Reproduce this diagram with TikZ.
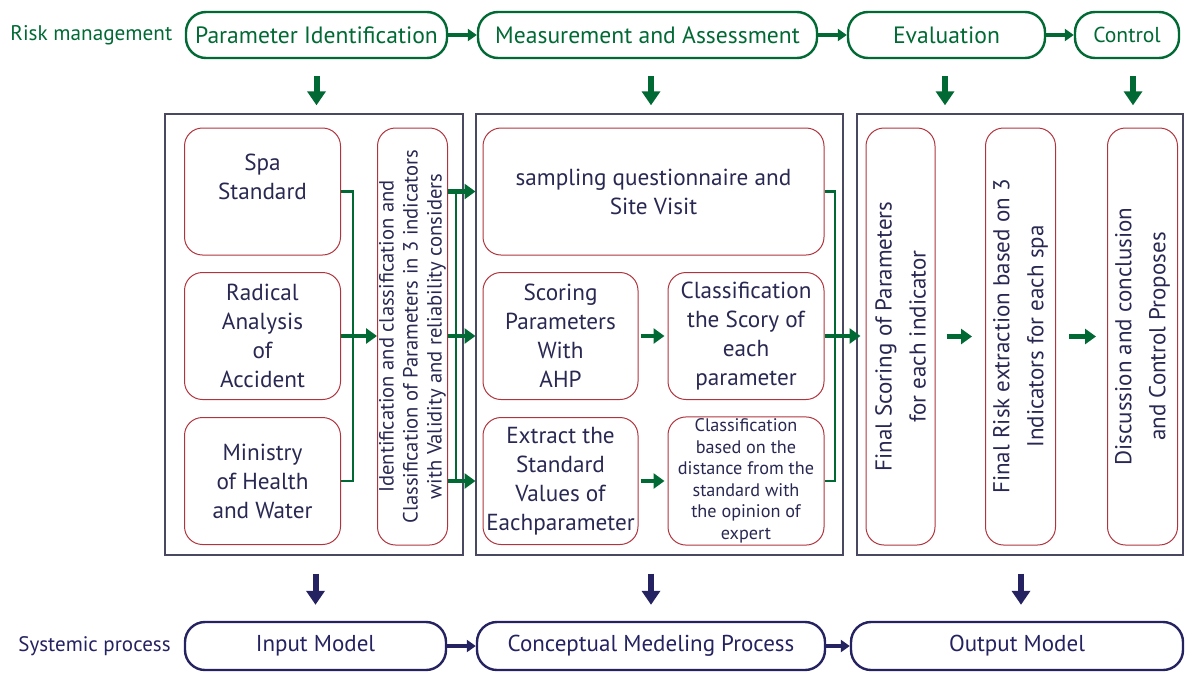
\documentclass[tikz,border=0pt]{standalone}
\usepackage{fontspec}
\setmainfont{PT Sans}
\usetikzlibrary{arrows.meta}

\definecolor{riskgreen}{RGB}{0,105,52}
\definecolor{sysnavy}{RGB}{36,34,96}
\definecolor{boxred}{RGB}{176,52,62}
\definecolor{panelgray}{RGB}{72,72,96}
\definecolor{inktext}{RGB}{40,40,82}

\begin{document}
\begin{tikzpicture}[x=0.5pt, y=-0.5pt,
	riskstep/.style={draw=riskgreen, line width=1.2pt, rounded corners=10pt, minimum height=23pt, text=riskgreen, font=\fontsize{11.8}{14}\selectfont},
	sysstep/.style={draw=sysnavy, line width=1.2pt, rounded corners=10pt, minimum height=24pt, text=sysnavy, font=\fontsize{11.5}{14}\selectfont},
	panel/.style={draw=panelgray, line width=0.7pt, minimum height=220.5pt, inner sep=0pt},
	item/.style={draw=boxred, line width=0.5pt, rounded corners=9pt, text=inktext, align=center, inner sep=1pt, font=\fontsize{11.6}{14.5}\selectfont},
	hitem/.style={item, minimum width=78pt, minimum height=63.5pt},
	vitem/.style={item, rotate=90, minimum width=208.5pt, minimum height=35pt, font=\fontsize{11.5}{17}\selectfont},
	gline/.style={draw=riskgreen, line width=1.2pt},
	garrow/.style={draw=riskgreen, line width=2.4pt, -{Triangle[width=7.5pt,length=5.5pt]}},
	tarrow/.style={draw=riskgreen, line width=2pt, -{Triangle[width=6pt,length=4.5pt]}},
	narrow/.style={draw=sysnavy, line width=2pt, -{Triangle[width=6pt,length=4.5pt]}},
	gdown/.style={draw=riskgreen, line width=3pt, -{Triangle[width=9pt,length=7pt]}},
	ndown/.style={draw=sysnavy, line width=3pt, -{Triangle[width=9pt,length=7pt]}}]
	\useasboundingbox (0,0) rectangle (1186,675);

	% row labels
	\node[text=riskgreen, anchor=west, inner sep=0pt, font=\fontsize{10.6}{12}\selectfont] (risklbl) at (10,35) {Risk management};
	\node[text=sysnavy, anchor=west, inner sep=0pt, font=\fontsize{10.5}{12}\selectfont] (syslbl) at (18,646) {Systemic process};

	% risk management steps
	\node[riskstep, minimum width=130.5pt] (pid) at (316.5,35) {Parameter Identification};
	\node[riskstep, minimum width=169.5pt] (meas) at (647.5,35) {Measurement and Assessment};
	\node[riskstep, minimum width=98.5pt] (eval) at (946.5,35) {Evaluation};
	\node[riskstep, minimum width=52pt, font=\fontsize{10.8}{12}\selectfont] (ctrl) at (1127,35) {Control};
	\draw[tarrow] (pid) -- (meas);
	\draw[tarrow] (meas) -- (eval);
	\draw[tarrow] (eval) -- (ctrl);

	% panels
	\node[panel, minimum width=149pt] (p1) at (314,334.5) {};
	\node[panel, minimum width=183.5pt] (p2) at (659.5,334.5) {};
	\node[panel, minimum width=163pt] (p3) at (1020,334.5) {};

	\draw[gdown] ([yshift=-8.5pt]pid.south) -- ([yshift=4pt]pid.south |- p1.north);
	\draw[gdown] ([xshift=1.75pt, yshift=-8.5pt]meas.south) -- ([xshift=1.75pt, yshift=4pt]meas.south |- p2.north);
	\draw[gdown] ([xshift=-0.75pt, yshift=-8.5pt]eval.south) -- ([xshift=-0.75pt, yshift=4pt]eval.south |- p3.north);
	\draw[gdown] ([xshift=3pt, yshift=-8.5pt]ctrl.south) -- ([xshift=3pt, yshift=4pt]ctrl.south |- p3.north);

	% input side
	\node[hitem] (spa) at (262.5,191.5) {Spa\\Standard\\~};
	\node[hitem] (rad) at (262.5,336) {Radical\\Analysis\\of\\Accident};
	\node[hitem] (mhw) at (262.5,481) {Ministry\\of Health\\and Water};
	\node[vitem, inner sep=0pt, font=\fontsize{10.3}{12}\selectfont] (ident) at (412.5,336.5) {Identification and classification and\\Classification of Parameters in 3 indicators\\with Validity and reliability considers};

	\coordinate (j1) at (353,336);
	\draw[gline] (spa.east) -| (j1) |- (mhw.east);
	\draw[garrow] (rad.east) -- (ident.north |- rad.east);

	% measurement side
	\node[item, minimum width=170.5pt, minimum height=63.5pt] (samp) at (653.5,191.5) {sampling questionnaire and\\Site Visit};
	\node[hitem, minimum width=77.5pt] (score) at (560.5,336) {Scoring\\Parameters\\With\\AHP};
	\node[hitem] (clsc) at (746,336) {Classification\\the Scory of\\each\\parameter};
	\node[hitem, minimum width=77.5pt] (extr) at (560.5,481) {Extract the\\Standard\\Values of\\Eachparameter};
	\node[hitem, font=\fontsize{9.1}{10.75}\selectfont] (clb) at (746,481) {Classification\\based on the\\distance from the\\standard with\\the opinion of\\expert};

	\draw[gline] ([xshift=4pt]ident.south |- samp.west) -- ([xshift=4pt]ident.south |- extr.west);
	\draw[garrow, shorten >=3.5pt] (ident.south |- samp.west) -- (samp.west);
	\draw[garrow, shorten >=3.5pt] (ident.south |- score.west) -- (score.west);
	\draw[garrow, shorten >=3.5pt] (ident.south |- extr.west) -- (extr.west);
	\draw[garrow, shorten <=1pt, shorten >=1.5pt] (score) -- (clsc);
	\draw[garrow, shorten <=1pt, shorten >=1.5pt] (extr) -- (clb);

	% evaluation and control side
	\node[vitem, minimum height=34.5pt] (fsc) at (900.5,336.5) {Final Scoring of Parameters\\for each indicator};
	\node[vitem] (frisk) at (1020.5,336.5) {Final Risk extraction based on 3\\Indicators for each spa};
	\node[vitem] (disc) at (1142.5,336.5) {Discussion and conclusion\\and Control Proposes};

	\coordinate (j2) at (835,336);
	\draw[gline] (samp.east) -| (j2) |- (clb.east);
	\draw[garrow, shorten >=2.5pt] (clsc.east) -- (fsc.north |- clsc.east);
	\draw[garrow, shorten <=5.5pt, shorten >=6.5pt] (fsc) -- (frisk);
	\draw[garrow, shorten <=6.5pt, shorten >=5.5pt] (frisk) -- (disc);

	% systemic process
	\node[sysstep, minimum width=130.5pt] (inp) at (315.5,646) {Input Model};
	\node[sysstep, minimum width=174pt] (conc) at (651,646) {Conceptual Medeling Process};
	\node[sysstep, minimum width=166pt] (outm) at (1017,646) {Output Model};
	\draw[narrow] (inp) -- (conc);
	\draw[narrow] (conc) -- (outm);

	\draw[ndown] ([yshift=-9pt]p1.south -| inp) -- ([yshift=8pt]inp.north);
	\draw[ndown] ([yshift=-9pt]p2.south -| conc) -- ([yshift=8pt]conc.north);
	\draw[ndown] ([xshift=2pt, yshift=-9pt]p3.south -| outm) -- ([xshift=2pt, yshift=8pt]outm.north);
\end{tikzpicture}
\end{document}
